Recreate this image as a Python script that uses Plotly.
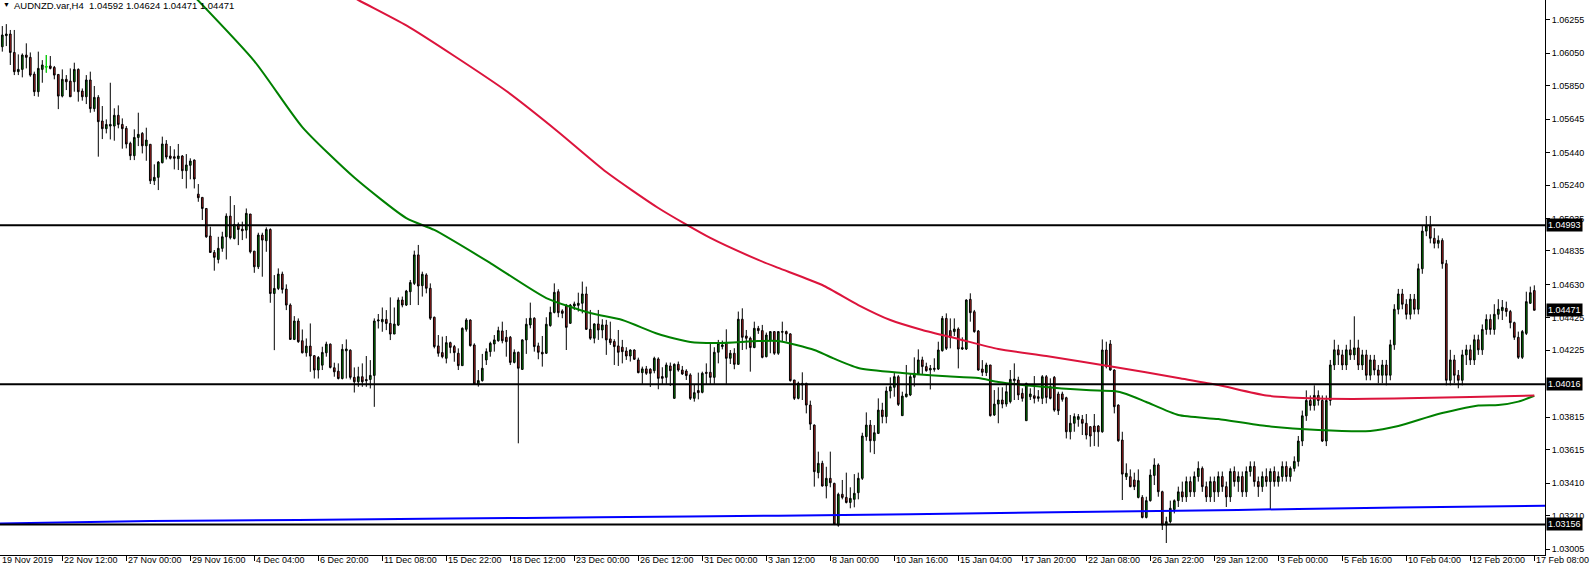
import plotly.graph_objects as go

# ---- Candle data (prices in points of 0.00001) ----
OPEN_PTS = [
106089,106157,106167,106054,105936,105950,106038,106024,105921,105813,
105950,105966,105971,105962,105919,105786,105889,105878,105874,105950,
105817,105782,105885,105709,105778,105633,105586,105602,105602,105668,
105612,105588,105496,105420,105532,105557,105481,105490,105266,105287,
105377,105492,105418,105414,105402,105418,105328,105361,105393,105184,
105164,105096,104927,104826,104783,104851,104922,105049,104912,104998,
104969,104963,105062,104834,104738,104933,104898,104967,104574,104605,
104693,104601,104503,104292,104405,104284,104210,104251,104192,104104,
104134,104210,104263,104118,104097,104052,104222,104226,104059,104032,
104063,104046,104046,104071,104405,104400,104415,104390,104325,104380,
104534,104503,104585,104636,104811,104622,104688,104606,104428,104252,
104211,104176,104272,104248,104207,104131,104354,104411,104258,104018,
104039,104166,104217,104264,104284,104344,104305,104305,104151,104213,
104108,104289,104381,104422,104252,104213,104207,104377,104458,104585,
104467,104497,104391,104497,104501,104514,104571,104354,104299,104387,
104350,104381,104295,104279,104252,104244,104221,104190,104227,104166,
104088,104111,104109,104100,104172,104064,104059,104129,103930,104139,
104104,104098,104074,103930,103978,103967,104090,104090,104059,104213,
104248,104268,104176,104207,104139,104416,104313,104299,104242,104360,
104346,104186,104283,104340,104207,104336,104340,104326,104043,103930,
104022,104022,103889,103766,103474,103531,103392,103439,103408,103152,
103341,103322,103291,103310,103351,103439,103695,103766,103670,103715,
103858,103818,103975,103998,104063,103824,103940,103951,104059,104080,
104166,104125,104104,104108,104110,104223,104421,104346,104340,104356,
104233,104233,104538,104462,104344,104110,104088,104135,103828,103895,
103920,103895,103910,104039,104043,103961,103793,103940,103946,103930,
103930,104063,104002,104059,103957,103957,103934,103725,103777,103801,
103801,103777,103756,103760,103760,103725,104227,104264,104104,103889,
103674,103449,103449,103429,103322,103322,103199,103302,103457,103521,
103357,103152,103173,103248,
103302,103356,103325,103419,103356,103450,103500,103388,103325,103419,
103356,103450,103388,103325,103481,103419,103450,103356,103481,103512,
103419,103388,103450,103419,103481,103419,103450,103512,103450,103500,
103543,103668,103823,103917,103886,103948,103917,103668,103917,104135,
104228,104197,104135,104228,104197,104240,104135,104197,104072,104166,
104104,104072,104135,104072,104259,104477,104571,104508,104446,104539,
104477,104726,104957,104988,104913,104882,104900,104757,104041,104166,
104072,104041,104197,104228,104166,104290,104228,104353,104415,104353,
104446,104469,104483,104463,104395,104305,104182,104329,104514,104592,
]
HIGH_PTS = [
106216,106228,106192,106192,106042,106048,106110,106054,105936,106059,
106007,106038,106032,105971,105919,105950,105915,105956,105991,105956,
105833,105915,105936,105848,105792,105725,105643,105868,105711,105729,
105649,105602,105506,105582,105684,105565,105592,105490,105367,105387,
105537,105516,105479,105459,105492,105424,105430,105404,105397,105246,
105164,105096,104984,104841,104922,104953,105066,105172,105117,105010,
105015,105096,105062,104834,104947,104947,104980,104974,104687,104728,
104708,104630,104513,104435,104421,104353,104298,104390,104196,104190,
104247,104278,104267,104149,104145,104263,104292,104231,104120,104124,
104145,104190,104165,104421,104448,104488,104472,104550,104488,104550,
104555,104596,104657,104837,104872,104708,104698,104636,104432,104319,
104309,104313,104278,104258,104237,104366,104422,104415,104268,104104,
104203,104237,104278,104319,104370,104401,104350,104313,104231,104217,
104293,104422,104518,104428,104272,104313,104428,104493,104636,104600,
104477,104510,104510,104524,104579,104647,104616,104473,104391,104473,
104416,104412,104401,104293,104350,104289,104244,104231,104231,104180,
104125,104129,104115,104186,104182,104121,104150,104150,104145,104156,
104129,104109,104084,104012,104088,104094,104145,104268,104244,104289,
104285,104354,104227,104238,104463,104483,104350,104309,104401,104375,
104381,104334,104340,104340,104340,104401,104346,104330,104043,104033,
104090,104026,103916,103770,103603,103547,103510,103603,103412,103351,
103429,103474,103384,103465,103474,103719,103844,103797,103766,103930,
103903,104002,104059,104088,104073,103971,104135,104080,104182,104231,
104186,104149,104135,104176,104278,104436,104452,104421,104421,104366,
104305,104538,104575,104473,104350,104165,104149,104135,103981,103998,
103998,104012,104104,104145,104063,103992,104026,103992,104067,103981,
104073,104073,104053,104067,103971,103971,103940,103828,103838,103834,
103828,103834,103760,103834,103766,104292,104278,104288,104108,103893,
103725,103531,103494,103474,103494,103336,103326,103494,103562,103531,
103363,103203,103302,103310,
103388,103419,103450,103450,103481,103543,103512,103419,103450,103450,
103481,103481,103419,103500,103512,103481,103481,103512,103543,103543,
103450,103481,103500,103500,103512,103481,103543,103543,103512,103574,
103699,103855,103979,103948,104010,103979,103948,103948,104166,104290,
104259,104228,104259,104290,104434,104290,104228,104228,104197,104197,
104135,104166,104166,104290,104508,104602,104602,104539,104571,104571,
104757,104988,105050,105050,104975,104930,104913,104780,104228,104197,
104104,104228,104259,104259,104321,104321,104384,104446,104446,104508,
104539,104534,104524,104473,104401,104340,104350,104585,104616,104624,
]
LOW_PTS = [
106059,106093,105977,105915,105915,105901,105956,105905,105786,105782,
105868,105930,105950,105889,105706,105778,105823,105782,105813,105752,
105758,105737,105684,105690,105414,105522,105557,105520,105512,105588,
105463,105465,105393,105393,105479,105434,105389,105246,105240,105209,
105373,105397,105397,105336,105332,105277,105219,105275,105219,105137,
105025,104916,104824,104714,104759,104830,104783,104906,104906,104871,
104902,104912,104820,104701,104724,104677,104830,104517,104226,104595,
104574,104472,104292,104288,104271,104206,104186,104093,104052,104052,
104104,104186,104114,104063,104046,104046,104052,104046,103966,104001,
104001,104001,103991,103878,104359,104339,104349,104288,104325,104374,
104489,104497,104503,104626,104503,104555,104575,104411,104237,104186,
104176,104145,104207,104155,104104,104131,104340,104248,104018,104002,
104033,104135,104186,104217,104278,104268,104186,104135,104145,103654,
104104,104203,104360,104217,104170,104125,104203,104370,104452,104428,
104422,104227,104387,104473,104463,104452,104350,104289,104268,104289,
104299,104197,104258,104135,104129,104145,104166,104156,104166,104084,
104019,104074,104000,104084,103986,104012,104019,104006,103930,104094,
104074,104043,103920,103910,103924,103961,104019,104019,104019,104145,
104231,104019,104141,104109,104135,104227,104231,104094,104238,104326,
104176,104182,104207,104197,104197,104279,104279,104033,103920,103924,
103920,103838,103736,103388,103439,103388,103316,103384,103152,103142,
103310,103285,103255,103261,103310,103429,103670,103598,103588,103711,
103777,103777,103930,103940,103883,103822,103936,103944,104002,104073,
104080,104094,103985,104094,104104,104217,104227,104237,104313,104114,
104227,104227,104401,104333,104100,104067,104067,103818,103822,103777,
103869,103879,103899,103920,103920,103910,103793,103920,103899,103910,
103895,103899,103924,103848,103828,103910,103684,103678,103725,103756,
103705,103678,103633,103637,103633,103719,104114,104100,103838,103664,
103306,103429,103384,103367,103316,103193,103193,103296,103398,103326,
103122,103042,103162,103224,
103263,103294,103294,103325,103325,103419,103356,103294,103294,103294,
103325,103356,103263,103294,103388,103356,103325,103325,103450,103388,
103325,103356,103388,103244,103388,103388,103419,103419,103419,103481,
103512,103637,103792,103855,103855,103886,103662,103637,103886,104104,
104135,104104,104104,104166,104166,104104,104104,104041,104041,104072,
104023,104023,104010,104041,104228,104446,104477,104415,104415,104446,
104446,104695,104926,104882,104851,104851,104726,104010,104010,104023,
103992,104010,104135,104135,104135,104197,104197,104321,104321,104321,
104415,104411,104432,104360,104289,104172,104172,104319,104510,104471,
]
CLOSE_PTS = [
106161,106167,106054,105936,105950,106038,106024,105915,105813,105956,
105977,105966,105956,105915,105786,105889,105874,105782,105950,105813,
105782,105885,105709,105778,105629,105586,105612,105612,105668,105612,
105586,105492,105420,105532,105551,105481,105516,105266,105287,105381,
105492,105412,105404,105404,105418,105328,105363,105387,105277,105162,
105096,104922,104826,104796,104851,104922,105049,104916,104998,104967,
104959,105066,104830,104738,104933,104902,104967,104574,104605,104693,
104599,104503,104292,104405,104278,104210,104251,104190,104104,104181,
104212,104263,104120,104093,104052,104231,104233,104059,104032,104063,
104032,104038,104071,104405,104411,104415,104390,104325,104386,104534,
104503,104589,104641,104811,104620,104692,104606,104422,104248,104207,
104186,104272,104243,104211,104131,104360,104411,104254,104018,104039,
104115,104217,104268,104289,104346,104284,104278,104151,104213,104115,
104289,104385,104422,104248,104213,104203,104385,104458,104581,104456,
104452,104366,104503,104510,104514,104571,104354,104299,104387,104350,
104381,104289,104272,104248,104213,104217,104190,104227,104170,104088,
104111,104084,104084,104176,104053,104053,104135,104100,104139,104104,
104080,104070,103930,103965,103965,104084,104084,104059,104213,104268,
104258,104176,104207,104139,104416,104305,104299,104242,104360,104346,
104182,104319,104340,104207,104340,104340,104326,104039,103930,104023,
104012,103889,103772,103480,103531,103392,103439,103412,103158,103341,
103322,103291,103316,103347,103439,103699,103766,103670,103719,103858,
103818,103975,104002,104063,103893,103944,103957,104063,104084,104166,
104125,104100,104114,104114,104227,104421,104237,104305,104356,104233,
104241,104534,104456,104340,104104,104090,104135,103824,103895,103920,
103895,103971,104047,104049,103951,103930,104022,103957,103930,103940,
104063,103936,103930,103858,103854,103924,103725,103777,103818,103818,
103777,103705,103699,103725,103725,104227,104125,104104,103879,103670,
103465,103470,103388,103388,103425,103199,103302,103459,103521,103357,
103152,103173,103255,103302,
103356,103325,103419,103356,103450,103500,103388,103325,103419,103356,
103450,103388,103325,103481,103419,103450,103356,103481,103512,103419,
103388,103450,103419,103481,103419,103450,103512,103450,103500,103543,
103668,103823,103917,103886,103948,103917,103668,103917,104135,104228,
104197,104135,104228,104197,104240,104135,104197,104072,104166,104104,
104072,104135,104072,104259,104477,104571,104508,104446,104539,104477,
104726,104957,104988,104913,104882,104900,104757,104041,104166,104072,
104041,104197,104228,104166,104290,104228,104353,104415,104353,104446,
104477,104489,104463,104395,104305,104182,104340,104524,104579,104471,
]

# ---- Moving averages (bar index, price) ----
GREEN_MA_BARS = [45, 64, 76, 89, 102, 109, 123, 137, 148, 156, 165, 173, 180, 190, 195,
                 204, 208, 215, 226, 236, 245, 250, 259, 272, 279, 282, 287, 295, 305,
                 317, 330, 343, 350, 360, 370, 375, 380, 384]
GREEN_MA_VALS = [1.06500, 1.06001, 1.05596, 1.05286, 1.05037, 1.04964, 1.04761, 1.04546,
                 1.04454, 1.04411, 1.04325, 1.04276, 1.04270, 1.04282, 1.04282, 1.04227,
                 1.04184, 1.04117, 1.04086, 1.04067, 1.04055, 1.04031, 1.04006, 1.03981,
                 1.03975, 1.03957, 1.03908, 1.03828, 1.03803, 1.03760, 1.03736, 1.03730,
                 1.03760, 1.03834, 1.03886, 1.03889, 1.03910, 1.03946]
RED_MA_BARS = [80, 90, 102, 114, 127, 140, 152, 165, 178, 190, 195, 206, 215, 223, 231,
               240, 250, 262, 279, 295, 305, 317, 330, 343, 355, 368, 384]
RED_MA_VALS = [1.06511, 1.06376, 1.06220, 1.06032, 1.05817, 1.05566, 1.05320, 1.05099,
               1.04915, 1.04780, 1.04731, 1.04626, 1.04503, 1.04411, 1.04350, 1.04295,
               1.04233, 1.04190, 1.04123, 1.04055, 1.04012, 1.03948, 1.03929, 1.03927,
               1.03932, 1.03938, 1.03948]
BLUE_MA_BARS = [0, 38, 75, 113, 150, 195, 228, 264, 295, 325, 350, 387]
BLUE_MA_VALS = [1.03162, 1.03177, 1.03183, 1.03192, 1.03200, 1.03210, 1.03219, 1.03231,
                1.03240, 1.03251, 1.03260, 1.03271]

# ---- Levels, axis labels ----
HLINE_LEVELS = [1.04993, 1.04016, 1.03156]
CURRENT_PRICE = 1.04471
HEADER = "AUDNZD.var,H4\u00a0\u00a01.04592 1.04624 1.04471 1.04471"
PRICE_TICKS = [1.06255, 1.06050, 1.05850, 1.05645, 1.05440, 1.05240, 1.05035, 1.04835,
               1.04630, 1.04425, 1.04225, 1.03815, 1.03615, 1.03410, 1.03210, 1.03005]
TIME_LABELS = ["19 Nov 2019", "22 Nov 12:00", "27 Nov 00:00", "29 Nov 16:00", "4 Dec 04:00",
               "6 Dec 20:00", "11 Dec 08:00", "15 Dec 22:00", "18 Dec 12:00", "23 Dec 00:00",
               "26 Dec 12:00", "31 Dec 00:00", "3 Jan 12:00", "8 Jan 00:00", "10 Jan 16:00",
               "15 Jan 04:00", "17 Jan 20:00", "22 Jan 08:00", "26 Jan 22:00", "29 Jan 12:00",
               "3 Feb 00:00", "5 Feb 16:00", "10 Feb 04:00", "12 Feb 20:00", "17 Feb 08:00"]
TIME_LABEL_BARS = [0, 16, 32, 48, 64, 80, 96, 112, 128, 144, 160, 176, 192, 208, 224,
                   240, 256, 272, 288, 304, 320, 336, 352, 368, 384]

assert len(OPEN_PTS) == len(HIGH_PTS) == len(LOW_PTS) == len(CLOSE_PTS), \
    (len(OPEN_PTS), len(HIGH_PTS), len(LOW_PTS), len(CLOSE_PTS))
n = len(OPEN_PTS)
bars = list(range(1, n + 1))
o = [v / 1e5 for v in OPEN_PTS]
h = [v / 1e5 for v in HIGH_PTS]
l = [v / 1e5 for v in LOW_PTS]
c = [v / 1e5 for v in CLOSE_PTS]

FONT = "Liberation Sans, Arial, sans-serif"
X_MIN, X_MAX = 0.425, 386.675

fig = go.Figure()
fig.add_trace(go.Candlestick(
    x=bars, open=o, high=h, low=l, close=c,
    increasing=dict(fillcolor="#008000", line=dict(color="#000000", width=1)),
    decreasing=dict(fillcolor="#b22222", line=dict(color="#000000", width=1)),
    whiskerwidth=0, hoverinfo="skip", showlegend=False,
))

# doji bars (open == close) drawn in lime
dx, dy = [], []
for b, oo, hh, ll, cc in zip(bars, o, h, l, c):
    if oo == cc:
        dx += [b, b, None, b - 0.4, b + 0.4, None]
        dy += [hh, ll, None, oo, oo, None]
if dx:
    fig.add_trace(go.Scatter(x=dx, y=dy, mode="lines", line=dict(color="#00ff00", width=1),
                             hoverinfo="skip", showlegend=False))

for xs, ys, col in [(BLUE_MA_BARS, BLUE_MA_VALS, "#0000ff"),
                    (GREEN_MA_BARS, GREEN_MA_VALS, "#008000"),
                    (RED_MA_BARS, RED_MA_VALS, "#dc143c")]:
    fig.add_trace(go.Scatter(x=xs, y=ys, mode="lines",
                             line=dict(color=col, width=2, shape="spline", smoothing=0.6),
                             hoverinfo="skip", showlegend=False))

for lv in HLINE_LEVELS:
    fig.add_shape(type="line", xref="paper", x0=0, x1=1, yref="y", y0=lv, y1=lv,
                  line=dict(color="#000000", width=2), layer="above")

annotations = []
# price boxes on the right scale
for lv in HLINE_LEVELS + [CURRENT_PRICE]:
    annotations.append(dict(
        xref="paper", x=1, xanchor="left", xshift=1, yref="y", y=lv, yanchor="middle",
        text=f"{lv:.5f}", showarrow=False, bgcolor="#000000", borderpad=1,
        font=dict(family=FONT, size=9, color="#ffffff")))
# time labels (left-aligned at their tick, as in the terminal)
for b, t in zip(TIME_LABEL_BARS, TIME_LABELS):
    pos = (b - X_MIN) / (X_MAX - X_MIN)
    annotations.append(dict(
        xref="paper", x=max(pos, 0.0), xanchor="left", xshift=0, yref="paper", y=0,
        yanchor="top", yshift=2, text=t, showarrow=False,
        font=dict(family=FONT, size=9, color="#000000")))
# header
annotations.append(dict(xref="paper", x=0, xanchor="left", xshift=1, yref="paper", y=1,
                        yanchor="top", yshift=1, text="\u25bc", showarrow=False,
                        font=dict(family=FONT, size=7, color="#000000")))
annotations.append(dict(xref="paper", x=0, xanchor="left", xshift=12, yref="paper", y=1,
                        yanchor="top", yshift=2, text=HEADER, showarrow=False,
                        font=dict(family=FONT, size=9.5, color="#000000")))

y_top = 1.06376
y_bot = 1.029683

fig.update_layout(
    template="none",
    width=1590, height=569,
    margin=dict(l=0, r=45, t=0, b=14, pad=0),
    paper_bgcolor="#ffffff", plot_bgcolor="#ffffff",
    showlegend=False,
    boxgap=0.4,
    annotations=annotations,
    xaxis=dict(range=[X_MIN, X_MAX], tickvals=TIME_LABEL_BARS[1:], ticks="outside",
               ticklen=5, tickcolor="#000000", tickwidth=1, showticklabels=False,
               showline=True, linecolor="#000000", linewidth=1, showgrid=False,
               zeroline=False, rangeslider=dict(visible=False), automargin=False,
               fixedrange=True),
    yaxis=dict(side="right", range=[y_bot, y_top], tickvals=PRICE_TICKS,
               ticktext=[f"{v:.5f}" for v in PRICE_TICKS], ticks="outside", ticklen=4,
               tickcolor="#000000", tickwidth=1,
               tickfont=dict(family=FONT, size=9, color="#000000"),
               showline=True, linecolor="#000000", linewidth=1, showgrid=False,
               zeroline=False, automargin=False, fixedrange=True),
)

fig.write_html("out.html", config={"displayModeBar": False},
               post_script="document.body.style.margin='0';document.body.style.overflow='hidden';")
